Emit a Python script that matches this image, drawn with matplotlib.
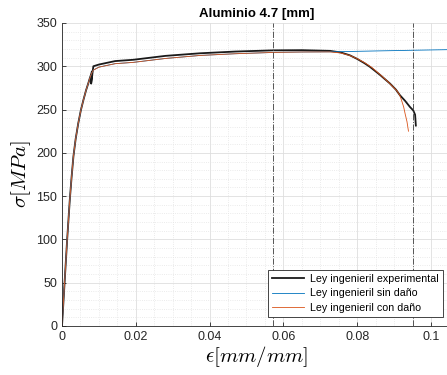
import matplotlib
matplotlib.use('Agg')
import matplotlib.pyplot as plt
from matplotlib.ticker import MultipleLocator

plt.rcParams['font.family'] = ['Liberation Sans', 'DejaVu Sans']
plt.rcParams['mathtext.fontset'] = 'cm'

# curva experimental
eps_exp = [0, 0.0007, 0.0014, 0.0021, 0.0026, 0.0031, 0.0037, 0.0044, 0.0051, 0.0058,
           0.0065, 0.0071, 0.0076, 0.0080, 0.0081, 0.0079, 0.0085, 0.0100, 0.0144, 0.0193,
           0.0280, 0.0374, 0.0470, 0.0573, 0.0650, 0.0726, 0.0755, 0.0780, 0.0800, 0.0820,
           0.0835, 0.0862, 0.0889, 0.0905, 0.0916, 0.0930, 0.0943, 0.0952, 0.0957, 0.0959]
sig_exp = [0, 50, 100, 145, 172, 196, 216, 234, 249, 261,
           272, 280, 287, 291.6, 294, 280, 300, 302, 306, 307.5,
           312, 315, 317, 318.4, 318.6, 317.8, 316, 312.7, 308.5, 303.5,
           299.2, 290, 280, 273, 266.5, 260, 253, 249, 244, 231.5]

# ley sin dano
eps_sin = [0, 0.0007, 0.0014, 0.0021, 0.0026, 0.0031, 0.0037, 0.0044, 0.0051, 0.0058,
           0.0065, 0.0071, 0.0076, 0.0080, 0.0085, 0.0100, 0.0144, 0.0193, 0.0280, 0.0374,
           0.0470, 0.0573, 0.0650, 0.0726, 0.0770, 0.0850, 0.0950, 0.1060]
sig_sin = [0, 50, 100, 145, 172, 196, 216, 234, 249, 261,
           272, 280, 287, 291.6, 295.6, 299, 303, 304.5, 309, 312.5,
           314.5, 316, 316.5, 316.7, 317, 317.7, 318.5, 319.3]

# ley con dano
eps_con = [0, 0.0007, 0.0014, 0.0021, 0.0026, 0.0031, 0.0037, 0.0044, 0.0051, 0.0058,
           0.0065, 0.0071, 0.0076, 0.0080, 0.0085, 0.0100, 0.0144, 0.0193, 0.0280, 0.0374,
           0.0470, 0.0573, 0.0650, 0.0726, 0.0755, 0.0780, 0.0800, 0.0820, 0.0840, 0.0862,
           0.0885, 0.0907, 0.0915, 0.0920, 0.0926, 0.0930, 0.0935, 0.0939]
sig_con = [0, 50, 100, 145, 172, 196, 216, 234, 249, 261,
           272, 280, 287, 291.6, 295.6, 299, 303, 304.5, 309, 312.5,
           314.5, 316, 316.5, 316.6, 315.4, 312.5, 308.8, 304.2, 298.5, 290.5,
           281.5, 272, 267, 261, 253, 245, 236, 225]

eps_marks = [0.0573, 0.0952]

fig = plt.figure(figsize=(4.47, 3.75), dpi=100)
ax = fig.add_axes([0.1387, 0.1307, 0.8725, 0.808])

ax.plot(eps_exp, sig_exp, color='#1a1a1a', linewidth=1.3, label='Ley ingenieril experimental')
ax.plot(eps_sin, sig_sin, color='#0072BD', linewidth=0.6, label='Ley ingenieril sin daño')
ax.plot(eps_con, sig_con, color='#D95319', linewidth=0.6, label='Ley ingenieril con daño')

for e in eps_marks:
    ax.axvline(e, color='#555555', linestyle='-.', linewidth=0.7)

ax.set_xlim(0, 0.1057)
ax.set_ylim(0, 350)
ax.xaxis.set_major_locator(MultipleLocator(0.02))
ax.xaxis.set_minor_locator(MultipleLocator(0.005))
ax.yaxis.set_major_locator(MultipleLocator(50))
ax.yaxis.set_minor_locator(MultipleLocator(10))
ax.set_xticks([0, 0.02, 0.04, 0.06, 0.08, 0.1])
ax.set_xticklabels(['0', '0.02', '0.04', '0.06', '0.08', '0.1'])

ax.grid(True, which='major', color='#dedede', linewidth=0.6)
ax.grid(True, which='minor', color='#e4e4e4', linestyle=':', linewidth=0.6)
ax.set_axisbelow(True)

ax.spines['top'].set_visible(False)
ax.spines['right'].set_visible(False)
for s in ['left', 'bottom']:
    ax.spines[s].set_color('#262626')
    ax.spines[s].set_linewidth(0.6)
ax.tick_params(which='both', direction='in', colors='#262626', labelsize=9)
ax.tick_params(which='minor', length=0)
ax.tick_params(which='major', length=3, width=0.6)

ax.set_title('Aluminio 4.7 [mm]', fontsize=9.5, fontweight='bold', pad=4)
ax.set_xlabel(r'$\epsilon[mm/mm]$', fontsize=15, labelpad=1)
ax.set_ylabel(r'$\sigma[MPa]$', fontsize=15, labelpad=2)

leg = ax.legend(loc='lower right', bbox_to_anchor=(0.0, 0.0, 1.0, 1.0), fontsize=7.7,
                frameon=True, fancybox=False, framealpha=1, edgecolor='#262626',
                handlelength=3.0, borderaxespad=0.85, labelspacing=0.45,
                borderpad=0.35, handletextpad=0.6)
leg.get_frame().set_linewidth(0.6)

fig.savefig('out.png', dpi=100)
